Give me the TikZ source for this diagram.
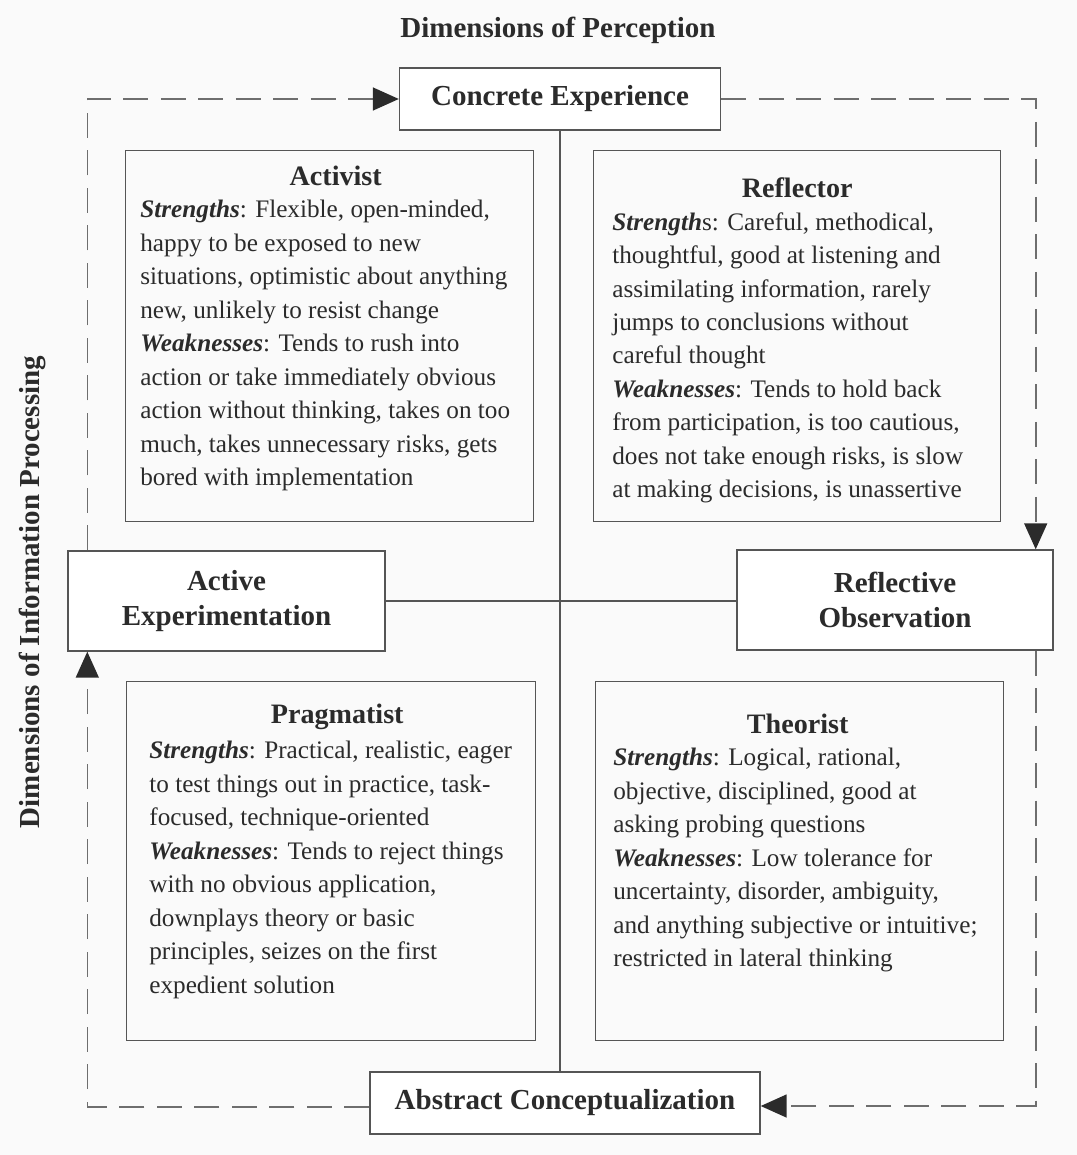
\documentclass[tikz,border=0pt]{standalone}
\usepackage{fontspec}
\setmainfont{Liberation Serif}
\usetikzlibrary{positioning,arrows.meta,calc}

\definecolor{ink}{HTML}{2B2B2B}
\definecolor{rule}{HTML}{555555}
\newcommand{\kw}[1]{\textbf{\textit{#1}}}

\begin{document}
\begin{tikzpicture}[
  x=0.02cm, y=-0.02cm,
  >={Triangle[length=0.52cm,width=0.46cm,color=ink]},
  stage/.style={draw=rule, line width=0.8pt, fill=white, text=ink,
    font=\bfseries\fontsize{16.5}{20}\selectfont, align=center, inner sep=0pt},
  quad/.style={draw=rule, line width=0.8pt, inner sep=0pt},
  quadtitle/.style={text=ink, font=\bfseries\fontsize{16}{19}\selectfont, inner sep=0pt},
  quadtext/.style={anchor=north west, align=left, text=ink,
    font=\fontsize{14.35}{19.05}\selectfont, inner sep=0pt},
  cycle/.style={draw=rule!85, line width=0.9pt, dash pattern=on 0.5cm off 0.25cm}
]
  \useasboundingbox[fill=black!2] (0,0) rectangle (1077,1155);

  % axis labels
  \node[quadtitle, font=\bfseries\fontsize{16.5}{20}\selectfont] (perc) at (558,30) {Dimensions of Perception};
  \node[quadtitle, font=\bfseries\fontsize{16.5}{20}\selectfont, rotate=90] (proc) at (32,592) {Dimensions of Information Processing};

  % the four stages
  \node[stage, minimum width=321*0.02cm, minimum height=62*0.02cm] (ce) at (560,99) {Concrete Experience};
  \node[stage, minimum width=316*0.02cm, minimum height=100*0.02cm] (ro) at (895,600) {Reflective\\Observation};
  \node[stage, minimum width=390*0.02cm, minimum height=62*0.02cm] (ac) at (565,1103) {Abstract Conceptualization};
  \node[stage, minimum width=317*0.02cm, minimum height=100*0.02cm] (ae) at (226.5,601) {Active\\Experimentation};

  % axes
  \draw[rule, line width=0.8pt] (ce.south) -- (ce.south |- ac.north);
  \draw[rule, line width=0.8pt] (ae.east) -- (ae.east -| ro.west);

  % the learning cycle
  \draw[cycle, ->] ($(ae.north west)+(20,0)$) |- (ce.west);
  \draw[cycle, ->] (ce.east) -| ($(ro.north east)+(-18,0)$);
  \draw[cycle, ->] ($(ro.south east)+(-18,0)$) |- ($(ac.east)+(0,3)$);
  \draw[cycle, ->] ($(ac.west)+(0,4)$) -| ($(ae.south west)+(20,0)$);

  % learning styles
  \node[quad, anchor=north west, minimum width=408*0.02cm, minimum height=371*0.02cm] (act) at (125,150) {};
  \node[quad, anchor=north west, minimum width=407*0.02cm, minimum height=371*0.02cm] (refl) at (593,150) {};
  \node[quad, anchor=north west, minimum width=409*0.02cm, minimum height=359*0.02cm] (prag) at (126,681) {};
  \node[quad, anchor=north west, minimum width=408*0.02cm, minimum height=359*0.02cm] (theo) at (595,681) {};

  \node[quadtitle] (actT) at ($(act.north)+(6,26)$) {Activist};
  \node[quadtext] (actB) at ($(act.north west)+(15,50)$) {%
    \kw{Strengths}: Flexible, open-minded,\\
    happy to be exposed to new\\
    situations, optimistic about anything\\
    new, unlikely to resist change\\
    \kw{Weaknesses}: Tends to rush into\\
    action or take immediately obvious\\
    action without thinking, takes on too\\
    much, takes unnecessary risks, gets\\
    bored with implementation};

  \node[quadtitle] (reflT) at ($(refl.north)+(0,38)$) {Reflector};
  \node[quadtext] (reflB) at ($(refl.north west)+(19,62)$) {%
    \kw{Strength}s: Careful, methodical,\\
    thoughtful, good at listening and\\
    assimilating information, rarely\\
    jumps to conclusions without\\
    careful thought\\
    \kw{Weaknesses}: Tends to hold back\\
    from participation, is too cautious,\\
    does not take enough risks, is slow\\
    at making decisions, is unassertive};

  \node[quadtitle] (pragT) at ($(prag.north)+(6,36)$) {Pragmatist};
  \node[quadtext] (pragB) at ($(prag.north west)+(23,60)$) {%
    \kw{Strengths}: Practical, realistic, eager\\
    to test things out in practice, task-\\
    focused, technique-oriented\\
    \kw{Weaknesses}: Tends to reject things\\
    with no obvious application,\\
    downplays theory or basic\\
    principles, seizes on the first\\
    expedient solution};

  \node[quadtitle] (theoT) at ($(theo.north)+(-2,43)$) {Theorist};
  \node[quadtext] (theoB) at ($(theo.north west)+(18,67)$) {%
    \kw{Strengths}: Logical, rational,\\
    objective, disciplined, good at\\
    asking probing questions\\
    \kw{Weaknesses}: Low tolerance for\\
    uncertainty, disorder, ambiguity,\\
    and anything subjective or intuitive;\\
    restricted in lateral thinking};
\end{tikzpicture}
\end{document}
